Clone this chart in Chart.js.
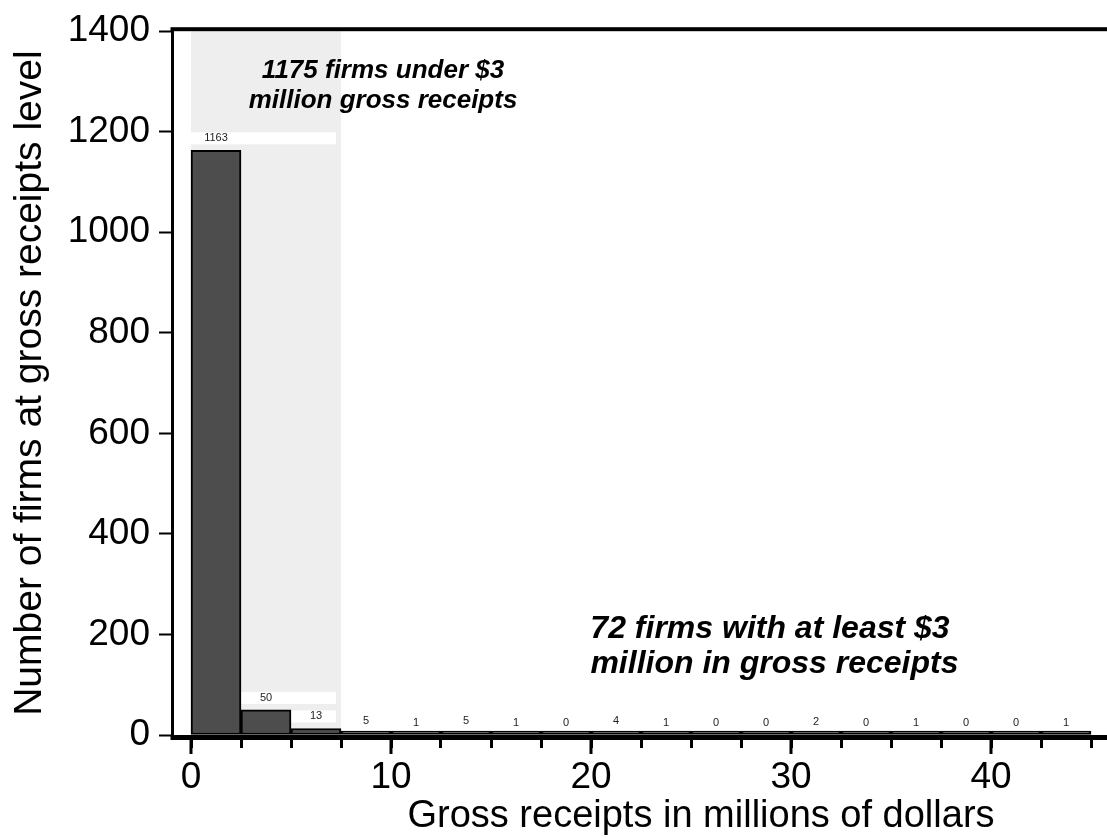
<!DOCTYPE html>
<html lang="en">
<head>
<meta charset="UTF-8">
<title>Firms by gross receipts</title>
<script src="https://cdn.jsdelivr.net/npm/chart.js"></script>
<style>
  html, body { margin: 0; padding: 0; background: #fff; }
  #wrap { width: 1107px; height: 838px; }
</style>
</head>
<body>
<div id="wrap"><canvas id="receiptsChart" width="1107" height="838"></canvas></div>
<script>
// histogram bins are 2.5 million wide, x values are the bin centres
var binCenters = [1.25, 3.75, 6.25, 8.75, 11.25, 13.75, 16.25, 18.75, 21.25, 23.75, 26.25, 28.75, 31.25, 33.75, 36.25, 38.75, 41.25, 43.75];
var firmCounts = [1163, 50, 13, 5, 1, 5, 1, 0, 4, 1, 0, 0, 2, 0, 1, 0, 0, 1];

var xTickValues = [0, 2.5, 5, 7.5, 10, 12.5, 15, 17.5, 20, 22.5, 25, 27.5, 30, 32.5, 35, 37.5, 40, 42.5, 45];
var xTickLabels = ['0', '', '', '', '10', '', '', '', '20', '', '', '', '30', '', '', '', '40', '', ''];
var yTickValues = [0, 200, 400, 600, 800, 1000, 1200, 1400];

var noteUnder = ['1175 firms under $3', 'million gross receipts'];
var noteOver = ['72 firms with at least $3', ' million in gross receipts'];
var shadeUpTo = 7.5;

var FONT = '"Liberation Sans", Arial, sans-serif';

var decorations = {
    id: 'decorations',
    beforeDatasetsDraw: function (chart) {
        var ctx = chart.ctx, a = chart.chartArea;
        var xs = chart.scales.x, ys = chart.scales.y;
        var s0 = xs.getPixelForValue(0), s1 = xs.getPixelForValue(shadeUpTo);
        ctx.save();
        ctx.fillStyle = '#eeeeee';
        ctx.fillRect(s0, a.top, s1 - s0, a.bottom - a.top);
        // white boxes behind the labels that sit in the shaded part
        ctx.fillStyle = '#ffffff';
        binCenters.forEach(function (c, i) {
            if (c > shadeUpTo) return;
            var cx = xs.getPixelForValue(c);
            var cy = ys.getPixelForValue(firmCounts[i]) - 12;
            var left = Math.max(cx - 32, s0);
            ctx.fillRect(left, cy - 6, s1 - 5 - left, 12);
        });
        ctx.restore();
    },
    afterDraw: function (chart) {
        var ctx = chart.ctx, a = chart.chartArea;
        var xs = chart.scales.x, ys = chart.scales.y;
        ctx.save();
        ctx.fillStyle = '#000';
        // frame: top line and thick x axis line
        ctx.fillRect(a.left - 1.5, a.top - 4, a.right - a.left + 2, 4);
        ctx.fillRect(a.left - 1.5, a.bottom, a.right - a.left + 2, 5);
        // longer ticks at the labelled values
        xTickValues.forEach(function (v, i) {
            if (xTickLabels[i] === '') return;
            ctx.fillRect(xs.getPixelForValue(v) - 1.5, a.bottom, 3, 19);
        });

        // count labels above each bar
        ctx.fillStyle = '#222';
        ctx.font = '11px ' + FONT;
        ctx.textAlign = 'center';
        ctx.textBaseline = 'middle';
        binCenters.forEach(function (c, i) {
            ctx.fillText(String(firmCounts[i]), xs.getPixelForValue(c), ys.getPixelForValue(firmCounts[i]) - 12);
        });

        // x axis title
        ctx.fillStyle = '#000';
        ctx.font = '38px ' + FONT;
        ctx.textBaseline = 'alphabetic';
        ctx.fillText('Gross receipts in millions of dollars', xs.getPixelForValue(25.5), 827);

        // notes
        ctx.font = 'italic bold 26px ' + FONT;
        ctx.fillText(noteUnder[0], xs.getPixelForValue(9.6), ys.getPixelForValue(1307));
        ctx.fillText(noteUnder[1], xs.getPixelForValue(9.6), ys.getPixelForValue(1247));
        ctx.font = 'italic bold 32px ' + FONT;
        ctx.fillText(noteOver[0], xs.getPixelForValue(28.95), ys.getPixelForValue(192));
        ctx.fillText(noteOver[1], xs.getPixelForValue(28.95), ys.getPixelForValue(123));
        ctx.restore();
    }
};

var ctx = document.getElementById('receiptsChart').getContext('2d');
var receiptsChart = new Chart(ctx, {
    type: 'bar',
    data: {
        datasets: [{
            data: binCenters.map(function (c, i) { return { x: c, y: firmCounts[i] }; }),
            backgroundColor: '#4d4d4d',
            borderColor: '#000',
            borderWidth: 2,
            borderSkipped: false,
            minBarLength: 4,
            barPercentage: 1,
            categoryPercentage: 1
        }]
    },
    options: {
        responsive: false,
        animation: false,
        layout: { padding: { top: 30, left: 0, right: 0, bottom: 0 } },
        plugins: {
            legend: { display: false },
            tooltip: { enabled: false }
        },
        scales: {
            x: {
                type: 'linear',
                min: -0.95,
                max: 45.8,
                offset: false,
                afterBuildTicks: function (axis) {
                    axis.ticks = xTickValues.map(function (v) { return { value: v }; });
                },
                afterFit: function (axis) { axis.height = 103; },
                border: { display: false },
                grid: {
                    offset: false,
                    drawOnChartArea: false,
                    drawTicks: true,
                    tickLength: 13,
                    tickWidth: 3,
                    tickColor: '#000'
                },
                ticks: {
                    autoSkip: false,
                    maxRotation: 0,
                    padding: 8,
                    color: '#000',
                    font: { family: FONT, size: 37 },
                    callback: function (value, index) { return xTickLabels[index]; }
                }
            },
            y: {
                min: 0,
                max: 1400,
                afterBuildTicks: function (axis) {
                    axis.ticks = yTickValues.map(function (v) { return { value: v }; });
                },
                afterFit: function (axis) { axis.width = 172; },
                border: { display: true, color: '#000', width: 3 },
                grid: {
                    drawOnChartArea: false,
                    drawTicks: true,
                    tickLength: 13,
                    tickWidth: 2,
                    tickColor: '#000'
                },
                ticks: {
                    padding: 9,
                    color: '#000',
                    font: { family: FONT, size: 37 },
                    callback: function (value) { return String(value); }
                },
                title: {
                    display: true,
                    text: 'Number of firms at gross receipts level',
                    color: '#000',
                    font: { family: FONT, size: 39, lineHeight: 1 },
                    padding: { top: 11, bottom: 0 }
                }
            }
        }
    },
    plugins: [decorations]
});
</script>
</body>
</html>
